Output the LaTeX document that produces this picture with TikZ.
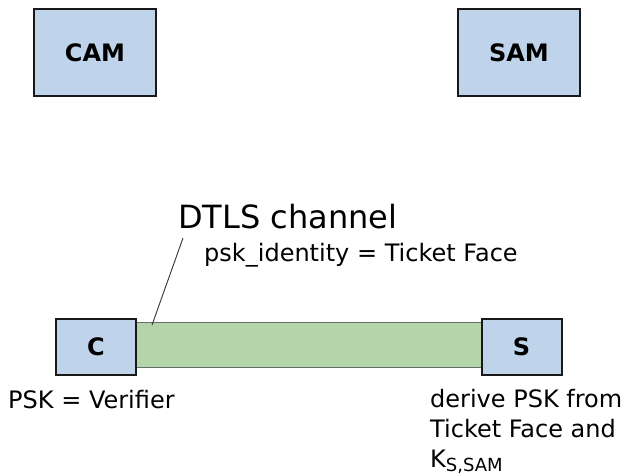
\documentclass[tikz,border=0pt]{standalone}
\usepackage{fontspec}
\setmainfont{DejaVu Sans}
\definecolor{boxblue}{HTML}{BFD4EA}
\definecolor{chgreen}{HTML}{B3D5A9}
\definecolor{chedge}{HTML}{6B6B6B}
\tikzset{
  blockbox/.style={draw=black!90, line width=2pt, fill=boxblue, inner sep=0pt,
    font=\bfseries\fontsize{24}{28}\selectfont},
  chanbar/.style={draw=chedge, line width=1.3pt, fill=chgreen, inner sep=0pt},
  lbl/.style={anchor=base west, inner sep=0pt, font=\fontsize{24}{32}\selectfont}
}
\begin{document}
\begin{tikzpicture}[x=1pt,y=-1pt]
      \useasboundingbox (0,0) rectangle (629,474);
      % top row
      \node[blockbox, minimum width=122pt, minimum height=87pt] (cam) at (95,52.5) {CAM};
      \node[blockbox, minimum width=122pt, minimum height=87pt] (sam) at (519,52.5) {SAM};
      % channel between client and server
      \node[chanbar, minimum width=350pt, minimum height=44.8pt] (chan) at (309,345) {};
      \node[blockbox, minimum width=80pt, minimum height=56pt] (c) at (96,347) {C};
      \node[blockbox, minimum width=80pt, minimum height=56pt] (s) at (521.5,347) {S};
      % labels
      \node[lbl, font=\fontsize{32}{36}\selectfont] (dtls) at (178,228) {DTLS channel};
      \node[lbl] (pskid) at (204,261) {psk\_identity = Ticket Face};
      \node[lbl] (pskc) at (8,408) {PSK = Verifier};
      \node[lbl] (der1) at (430,407) {derive PSK from};
      \node[lbl] (der2) at (430,437) {Ticket Face and};
      \node[lbl] (der3) at (430,467) {K\raisebox{-4pt}{\fontsize{18}{18}\selectfont S,SAM}};
      \coordinate (lead) at (183,238);
      \coordinate (tip) at (152,325);
      \begin{scope}[-]
        \draw[line width=0.9pt, black!80] (lead) to (tip);
      \end{scope}
    \end{tikzpicture}
\end{document}
